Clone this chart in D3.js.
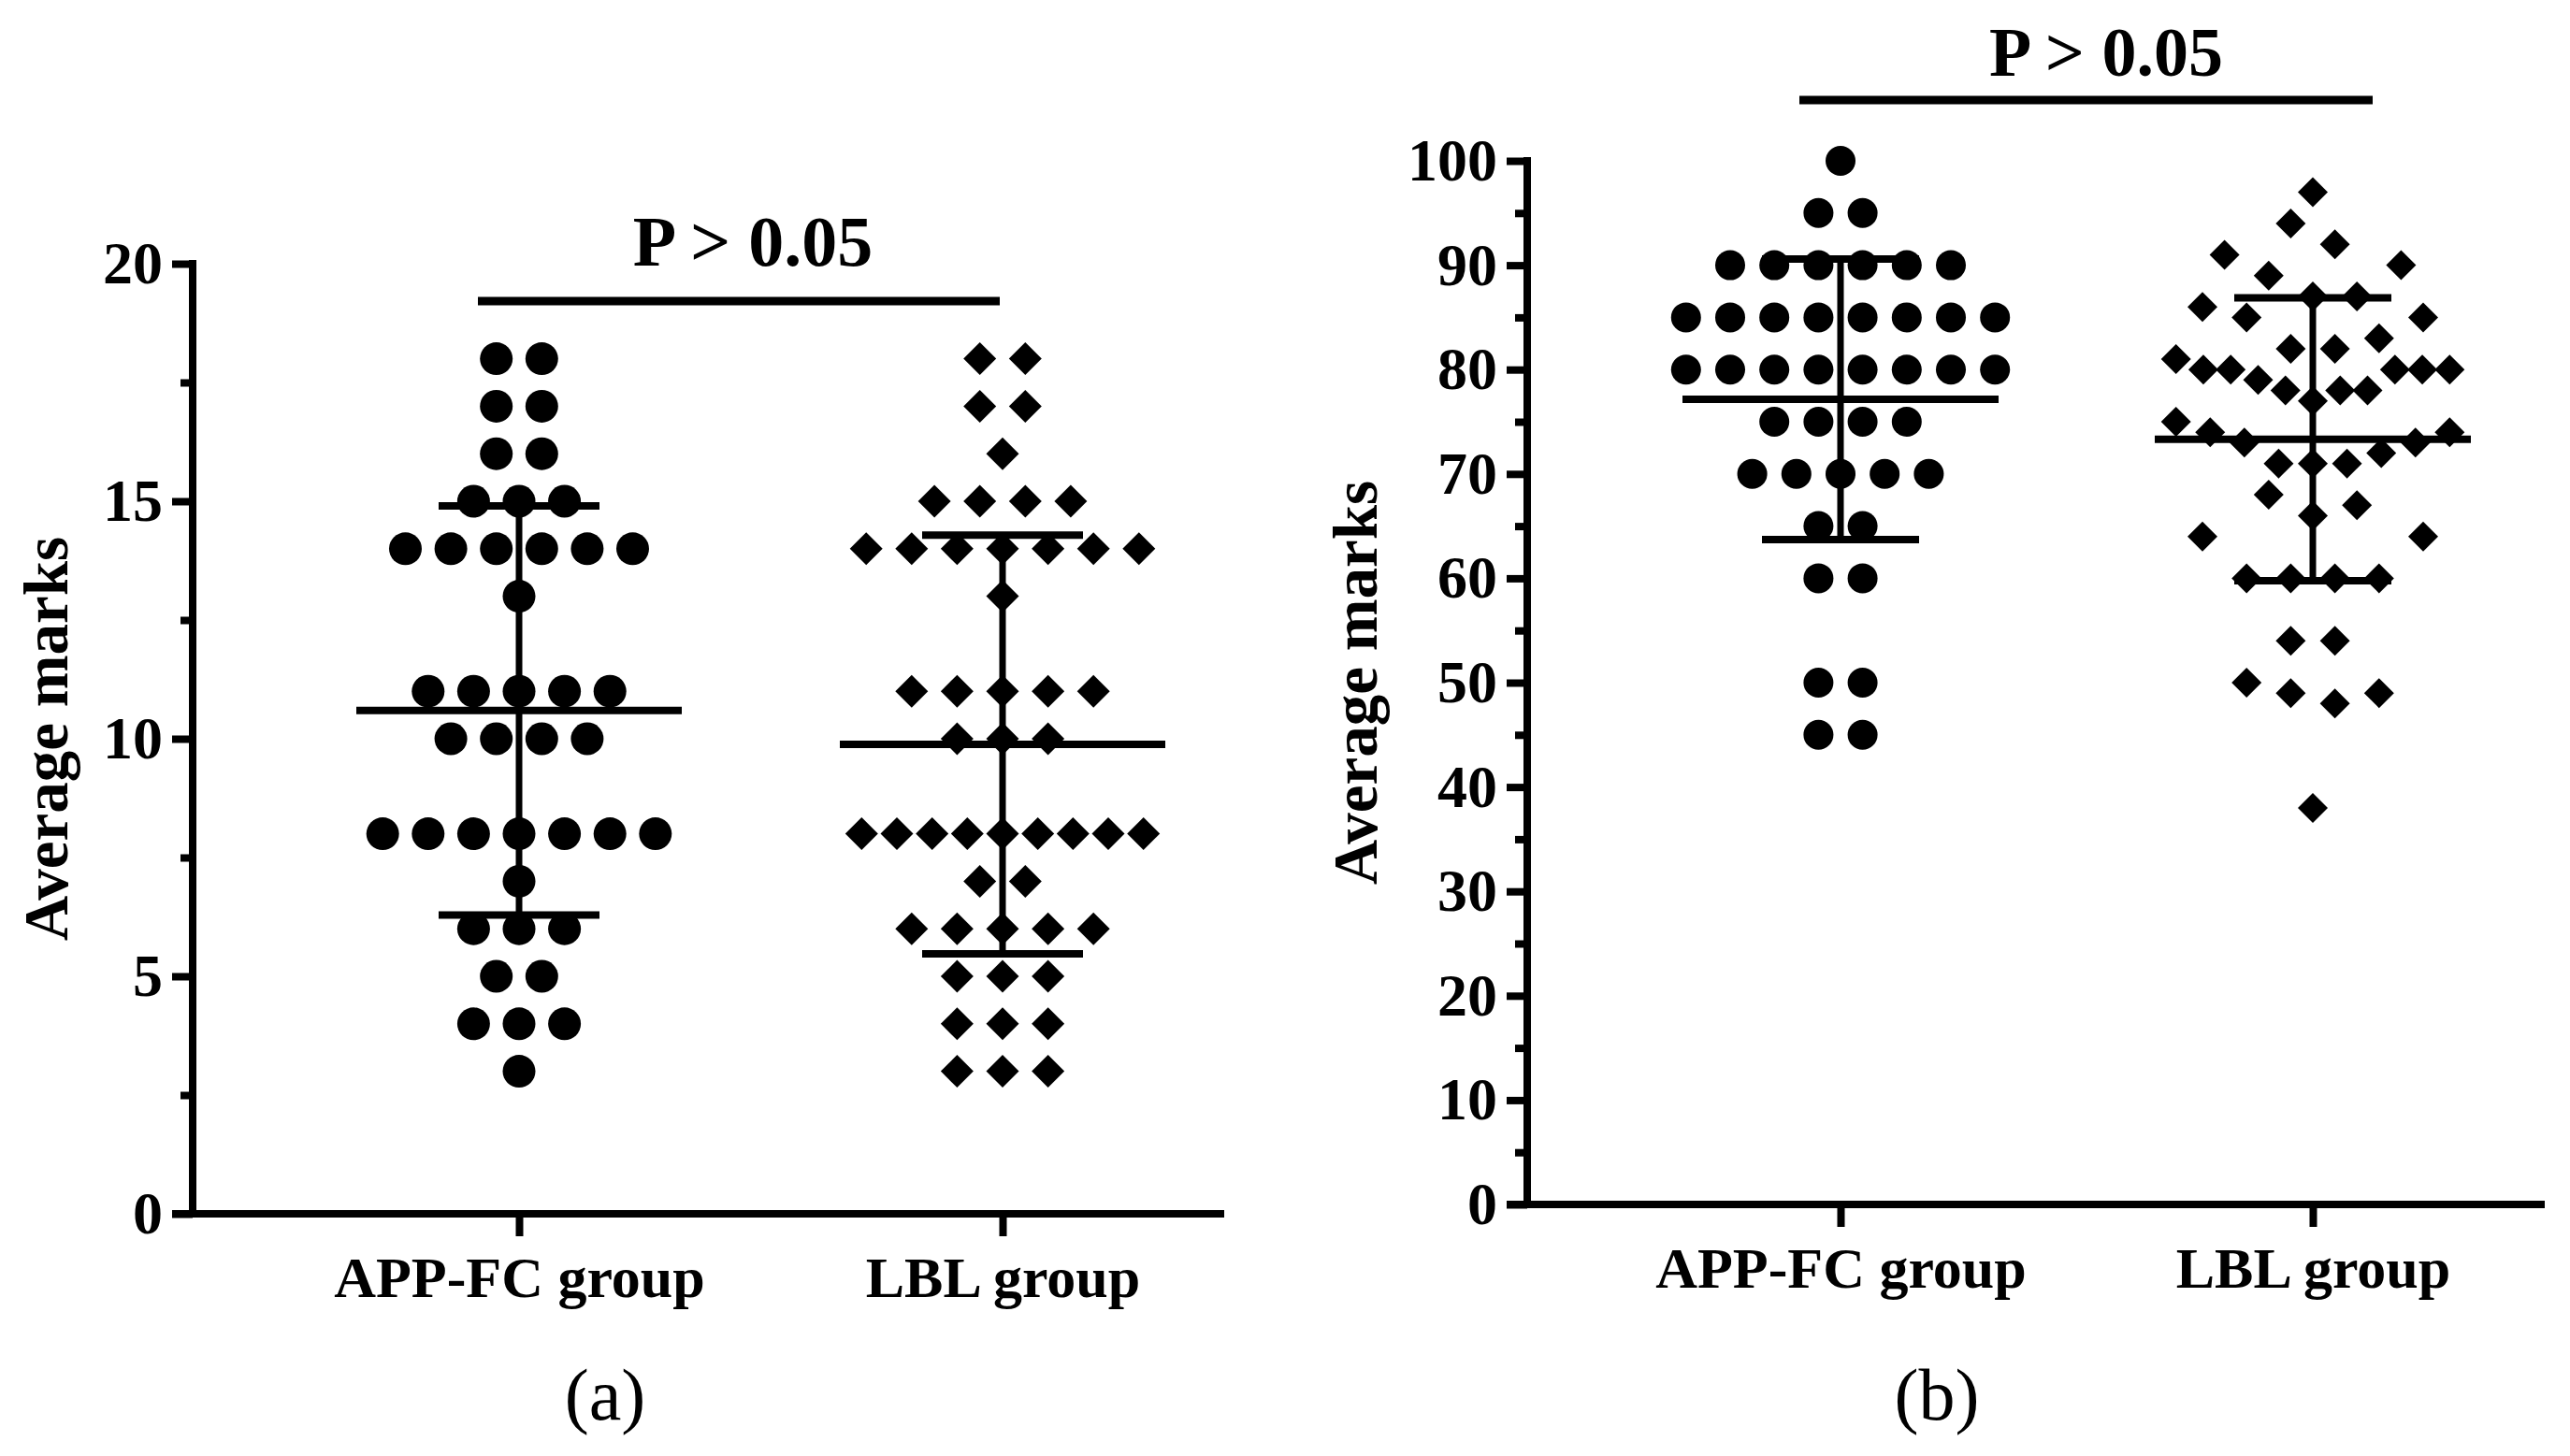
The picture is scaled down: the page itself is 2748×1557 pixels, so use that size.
<!DOCTYPE html>
<html>
<head>
<meta charset="utf-8">
<script src="https://cdn.jsdelivr.net/npm/d3@7"></script>
<style>
  html, body { margin: 0; padding: 0; background: #fff; }
  svg { display: block; }
  text { font-family: "Liberation Serif", "Times New Roman", "DejaVu Serif", serif; fill: #000; }
</style>
</head>
<body>
<svg id="chart" width="2748" height="1557"></svg>
<script>
// ---------------- DATA ----------------
const categories = ["APP-FC group", "LBL group"];

// Panel (a): average marks per student
const appA = [18,18,17,17,16,16,15,15,15,14,14,14,14,14,14,13,
              11,11,11,11,11,10,10,10,10,8,8,8,8,8,8,8,7,6,6,6,5,5,4,4,4,3];
const lblA = [18,18,17,17,16,15,15,15,15,14,14,14,14,14,14,14,13,
              11,11,11,11,11,10,10,10,8,8,8,8,8,8,8,8,8,7,7,
              6,6,6,6,6,5,5,5,4,4,4,3,3,3];

// Panel (b)
const appB = [100,95,95,90,90,90,90,90,90,85,85,85,85,85,85,85,85,
              80,80,80,80,80,80,80,80,75,75,75,75,70,70,70,70,70,
              65,65,60,60,50,50,45,45];
const lblB = [97,94,92,91,90,89,87,87,86,85,85,83,82,82,81,
              80,80,80,80,80,79,78,78,78,77,75,74,74,73,73,72,71,71,71,
              68,67,66,64,64,60,60,60,60,54,54,50,49,49,48,38];

const yTicksA = [0,5,10,15,20];
const yMinorA = [2.5,7.5,12.5,17.5];
const yTicksB = [0,10,20,30,40,50,60,70,80,90,100];
const yMinorB = [5,15,25,35,45,55,65,75,85,95];
const pText = "P > 0.05";
const yTitle = "Average marks";
const captions = ["(a)", "(b)"];

// ---------------- DRAWING ----------------
const svg = d3.select("#chart");
const FONT = '"Liberation Serif", "Times New Roman", serif';

// column layout like GraphPad: bands of near-equal values, centered rows
function swarm(values, y, spacing, maxN, spanFactor) {
  const sorted = values.map((v, i) => ({ v, i })).sort((a, b) => a.v - b.v);
  const out = [];
  let k = 0;
  while (k < sorted.length) {
    const y0 = y(sorted[k].v);
    const band = [];
    while (k < sorted.length && y0 - y(sorted[k].v) < spacing - 0.01) band.push(sorted[k++]);
    const n = band.length;
    const s = n > maxN ? spanFactor * spacing / (n - 1) : spacing;
    band.forEach((p, j) => {
      let slot;
      if (n % 2 === 1) slot = j === 0 ? 0 : (j % 2 === 1 ? (j + 1) / 2 : -j / 2);
      else { const m = Math.floor(j / 2) + 0.5; slot = j % 2 === 0 ? m : -m; }
      out.push({ v: p.v, dx: slot * s });
    });
  }
  return out;
}

function panel(cfg) {
  const g = svg.append("g");
  const y = d3.scaleLinear().domain(cfg.yDomain).range(cfg.yRange);
  const x = d3.scalePoint().domain(categories).range(cfg.xCats);
  const axX = cfg.axisX, axY = y(0), topY = y(cfg.yDomain[1]);
  const LW = 8;

  // Y axis major
  const yAxis = d3.axisLeft(y).tickValues(cfg.yTicks).tickSize(22).tickSizeOuter(0).tickPadding(10);
  const ya = g.append("g").attr("transform", `translate(${axX},0)`).call(yAxis);
  ya.select(".domain").remove();
  ya.selectAll(".tick line").attr("stroke", "#000").attr("stroke-width", LW);
  ya.selectAll(".tick text").attr("font-family", FONT).attr("font-weight", "bold")
    .attr("font-size", cfg.tickFont).attr("fill", "#000");
  // minor ticks
  const ym = g.append("g").attr("transform", `translate(${axX},0)`)
    .call(d3.axisLeft(y).tickValues(cfg.yMinor).tickSize(13).tickFormat(""));
  ym.select(".domain").remove();
  ym.selectAll(".tick line").attr("stroke", "#000").attr("stroke-width", LW);
  // y axis line
  g.append("line").attr("x1", axX).attr("x2", axX).attr("y1", topY - LW / 2).attr("y2", axY)
    .attr("stroke", "#000").attr("stroke-width", LW);
  // x axis line
  g.append("line").attr("x1", axX - 22).attr("x2", cfg.axisXEnd).attr("y1", axY).attr("y2", axY)
    .attr("stroke", "#000").attr("stroke-width", LW);
  // x axis ticks & labels
  const xa = g.append("g").attr("transform", `translate(0,${axY})`)
    .call(d3.axisBottom(x).tickSize(24).tickSizeOuter(0).tickPadding(21));
  xa.select(".domain").remove();
  xa.selectAll(".tick line").attr("stroke", "#000").attr("stroke-width", LW);
  xa.selectAll(".tick text").attr("font-family", FONT).attr("font-weight", "bold")
    .attr("font-size", 62).attr("fill", "#000");

  // y title
  g.append("text").attr("transform", `translate(${cfg.titleX},${(axY + topY) / 2}) rotate(-90)`)
    .attr("text-anchor", "middle").attr("font-weight", "bold").attr("font-size", 67).text(yTitle);

  // points
  cfg.series.forEach((vals, si) => {
    const cat = categories[si];
    const pts = swarm(vals, y, cfg.spacing, 8, 6.2);
    const cx = x(cat);
    const sym = si === 0 ? d3.symbol(d3.symbolCircle, Math.PI * (cfg.dot / 2) ** 2)
                         : d3.symbol(d3.symbolSquare, (cfg.dot / Math.SQRT2) ** 2);
    g.append("g").selectAll("path").data(pts).join("path")
      .attr("d", sym)
      .attr("transform", d => `translate(${cx + d.dx},${y(d.v)})` + (si === 1 ? " rotate(45)" : ""))
      .attr("fill", "#000");

    // mean ± SD
    const m = d3.mean(vals), sd = d3.deviation(vals);
    const eg = g.append("g").attr("stroke", "#000");
    eg.append("line").attr("x1", cx).attr("x2", cx).attr("y1", y(m + sd)).attr("y2", y(m - sd)).attr("stroke-width", 7);
    [m + sd, m - sd].forEach(v => eg.append("line").attr("x1", cx - cfg.capHalf).attr("x2", cx + cfg.capHalf)
      .attr("y1", y(v)).attr("y2", y(v)).attr("stroke-width", LW));
    eg.append("line").attr("x1", cx - cfg.meanHalf).attr("x2", cx + cfg.meanHalf)
      .attr("y1", y(m)).attr("y2", y(m)).attr("stroke-width", LW);
  });

  // significance bracket
  g.append("line").attr("x1", x(categories[0]) + cfg.sig[0]).attr("x2", x(categories[1]) + cfg.sig[1])
    .attr("y1", cfg.sig[2]).attr("y2", cfg.sig[2]).attr("stroke", "#000").attr("stroke-width", 9);
  g.append("text").attr("x", cfg.pPos[0]).attr("y", cfg.pPos[1]).attr("text-anchor", "middle")
    .attr("font-weight", "bold").attr("font-size", cfg.pFont).text(pText);

  // caption
  g.append("text").attr("x", cfg.capPos[0]).attr("y", cfg.capPos[1]).attr("text-anchor", "middle")
    .attr("font-size", 78).text(cfg.caption);
}

panel({
  series: [appA, lblA], yDomain: [0, 20], yRange: [1298, 282],
  yTicks: yTicksA, yMinor: yMinorA, xCats: [555, 1072],
  axisX: 206, axisXEnd: 1309, tickFont: 64, titleX: 72,
  spacing: 48.6, dot: 35, capHalf: 86, meanHalf: 174,
  sig: [-44, -3, 322], pPos: [805, 284], pFont: 76, capPos: [647, 1518], caption: captions[0]
});
panel({
  series: [appB, lblB], yDomain: [0, 100], yRange: [1288, 172],
  yTicks: yTicksB, yMinor: yMinorB, xCats: [1968, 2473],
  axisX: 1633, axisXEnd: 2721, tickFont: 64, titleX: 1472,
  spacing: 47.2, dot: 32, capHalf: 84, meanHalf: 169,
  sig: [-44, 64, 107], pPos: [2252, 81], pFont: 74, capPos: [2071, 1518], caption: captions[1]
});
</script>
</body>
</html>
